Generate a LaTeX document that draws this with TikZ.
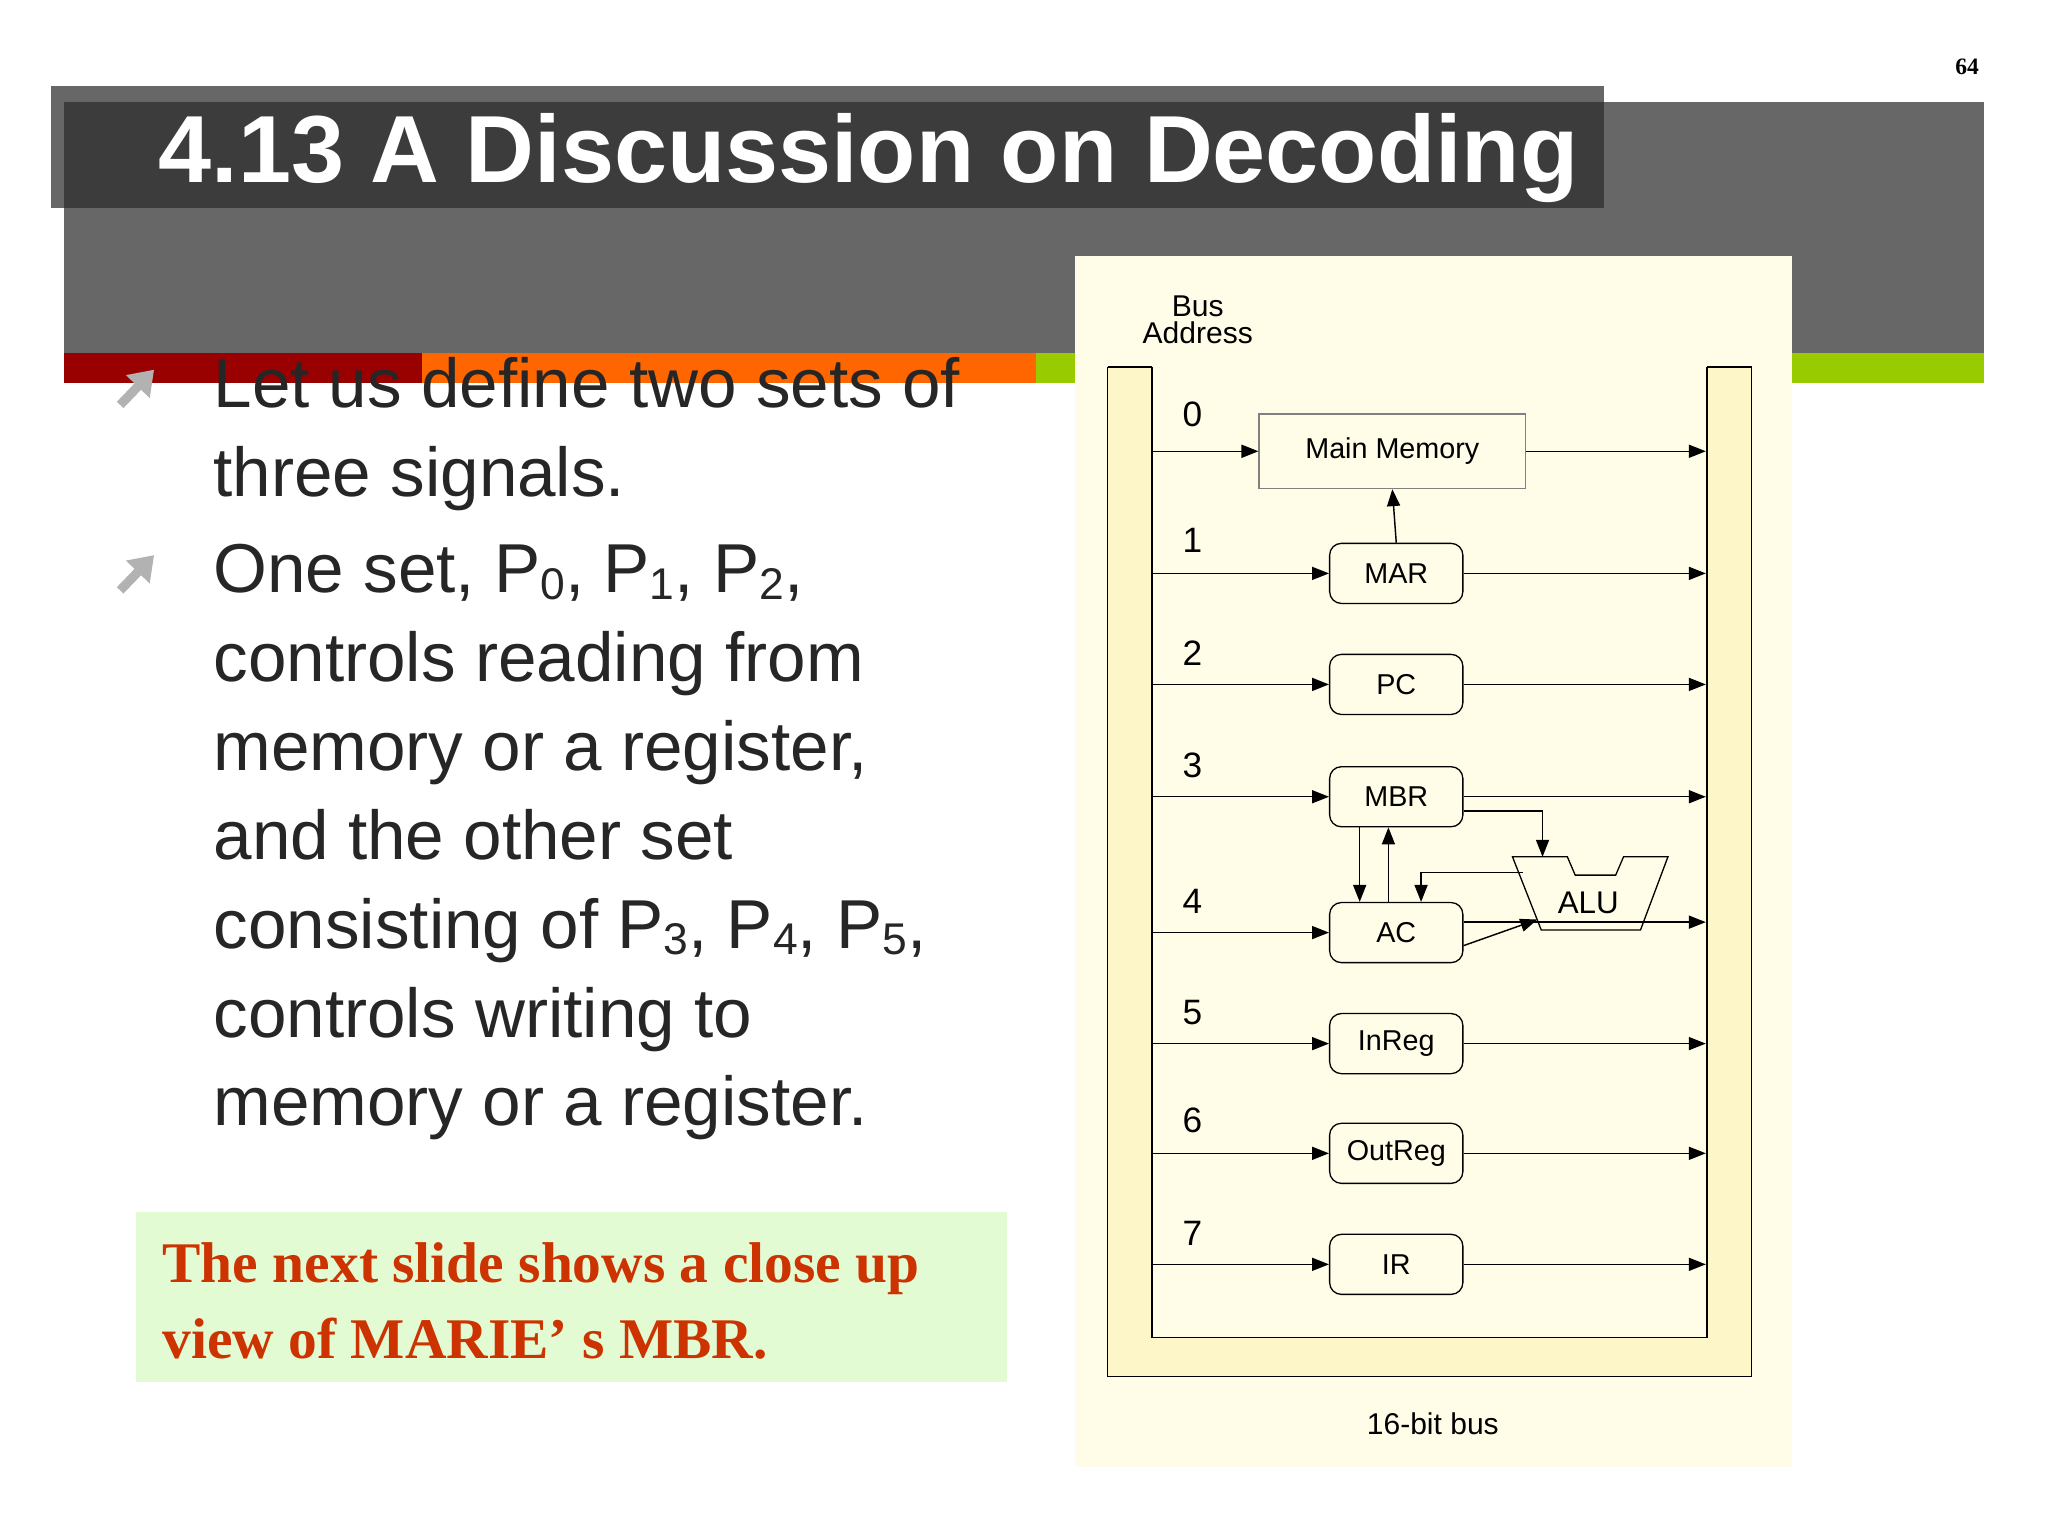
\documentclass[tikz,border=0pt]{standalone}
\usepackage{fontspec}
\setmainfont{Liberation Sans}
\newfontfamily\serifb{Liberation Serif}
\usetikzlibrary{arrows.meta}
\definecolor{panel}{HTML}{FFFDE8}
\definecolor{busfill}{HTML}{FDF6C8}
\definecolor{titledark}{HTML}{3C3C3C}
\definecolor{bandgrey}{HTML}{676767}
\definecolor{redbar}{HTML}{990000}
\definecolor{orangebar}{HTML}{FF6600}
\definecolor{greenbar}{HTML}{99CC00}
\definecolor{notebg}{HTML}{E2FBD3}
\definecolor{notetext}{HTML}{CC3300}
\newcommand{\sbs}[1]{{\fontsize{34}{34}\selectfont\raisebox{-5pt}{#1}}}
\tikzset{
  reg/.style={draw, rounded corners=9pt, minimum width=102pt, minimum height=46pt, inner sep=0pt, font=\fontsize{22}{22}\selectfont, line width=1pt},
  bustxt/.style={font=\fontsize{23}{23}\selectfont},
  wire/.style={line width=1.1pt, -{Triangle[length=13pt,width=10pt]}},
  plain/.style={line width=1.1pt},
  body/.style={anchor=base west, font=\fontsize{53}{53}\selectfont, text=black!85},
  bul/.style={line width=7pt, gray!60, -{Triangle[length=18pt,width=24pt]}}
}
\begin{document}
\begin{tikzpicture}[x=1pt,y=-1pt]
\path[use as bounding box, fill=white] (0,0) rectangle (1568,1176);
% header
\fill[bandgrey] (49,78) rectangle (1519,270);
\fill[bandgrey] (39,66) rectangle (1228,159);
\fill[titledark] (49,78) rectangle (1228,159);
\fill[redbar] (49,270) rectangle (323,293);
\fill[orangebar] (323,270) rectangle (793,293);
\fill[greenbar] (793,270) rectangle (1519,293);
\node[anchor=base east, text=white, font=\fontsize{73}{73}\selectfont\bfseries] (title) at (1212,140) {4.13 A Discussion on Decoding};
\node[anchor=base, font=\serifb\fontsize{18}{18}\selectfont\bfseries] (pg) at (1506,57) {64};
% body text
\draw[bul] (92,310) -- (118,283);
\draw[bul] (92,452) -- (118,425);
\node[body] (l1) at (160,312) {Let us define two sets of};
\node[body] (l2) at (160,380) {three signals.};
\node[body] (l3) at (160,454) {One set, P\sbs{0}, P\sbs{1}, P\sbs{2},};
\node[body] (l4) at (160,522) {controls reading from};
\node[body] (l5) at (160,590) {memory or a register,};
\node[body] (l6) at (160,658) {and the other set};
\node[body] (l7) at (160,726) {consisting of P\sbs{3}, P\sbs{4}, P\sbs{5},};
\node[body] (l8) at (160,794) {controls writing to};
\node[body] (l9) at (160,862) {memory or a register.};
\fill[notebg] (104,928) rectangle (771,1058);
\node[anchor=base west, text=notetext, font=\serifb\fontsize{44}{44}\selectfont\bfseries] (n1) at (121,982) {The next slide shows a close up};
\node[anchor=base west, text=notetext, font=\serifb\fontsize{44}{44}\selectfont\bfseries] (n2) at (121,1040) {view of MARIE’ s MBR.};
% panel
\fill[panel] (823,196) rectangle (1372,1123);
\fill[busfill] (848,281) -- (848,1054) -- (1341,1054) -- (1341,281) -- (1307,281) -- (1307,1024) -- (882,1024) -- (882,281) -- cycle;
\draw[line width=1pt] (882,281) -- (882,1024) -- (1307,1024) -- (1307,281);
\draw[line width=1pt] (848,281) -- (848,1054) -- (1341,1054) -- (1341,281);
\draw[line width=2pt] (848,281) -- (882,281);
\draw[line width=2pt] (1307,281) -- (1341,281);
\node[bustxt, align=center] (busaddr) at (917,245) {Bus\\[-2pt]Address};
\node[bustxt] (bb) at (1097,1090) {16-bit bus};
\foreach \n/\y in {0/317,1/414,2/500,3/586,4/690,5/775,6/858,7/944}
  \node[font=\fontsize{27}{27}\selectfont] (num\n) at (913,\y) {\n};
% nodes
\node[draw=black!50, line width=1pt, minimum width=204pt, minimum height=57pt, inner sep=0pt, font=\fontsize{22}{22}\selectfont] (mem) at (1066,345.5) {Main Memory};
\node[reg] (mar) at (1069,439) {MAR};
\node[reg] (pc) at (1069,524) {PC};
\node[reg] (mbr) at (1069,610) {MBR};
\node[reg] (ac) at (1069,714) {AC};
\node[reg] (inreg) at (1069,799) {InReg};
\node[reg] (outreg) at (1069,883) {OutReg};
\node[reg] (ir) at (1069,968) {IR};
\draw[line width=1pt] (1158,656) -- (1200,656) -- (1206,670) -- (1237,670) -- (1243,656) -- (1277,656) -- (1256,712) -- (1180,712) -- cycle;
\node[font=\fontsize{24}{24}\selectfont] (alu) at (1216,691) {ALU};
\coordinate (alutop) at (1181,656);
\coordinate (alul) at (1166,668);
\coordinate (alulin) at (1177,704);
% bus coordinates
\foreach \nm/\y in {mem/345.5,mar/439,pc/524,mbr/610,ac/714,inreg/799,outreg/883,ir/968}{
  \coordinate (L\nm) at (882,\y);
  \coordinate (R\nm) at (1306,\y);
}
\draw[wire] (Lmem) -- (mem.west);
\draw[wire] (mem.east) -- (Rmem);
\foreach \nm in {mar,pc,mbr,inreg,outreg,ir}{
  \draw[wire] (L\nm) -- (\nm.west);
  \draw[wire] (\nm.east) -- (R\nm);
}
\draw[wire] (Lac) -- (ac.west);
\draw[wire] (mar.north) -- (mem.south);
\draw[wire] ([xshift=-28pt]mbr.south) -- ([xshift=-28pt]ac.north);
\draw[wire] ([xshift=-6pt]ac.north) -- ([xshift=-6pt]mbr.south);
\draw[wire] ([yshift=-11pt]mbr.east) -| (alutop);
\draw[wire] (alul) -| ([xshift=19pt]ac.north);
\draw[wire] ([yshift=-10pt]ac.east) -- (alulin);
\draw[wire] ([yshift=8pt]ac.east) -- ([yshift=8pt]Rac);
\end{tikzpicture}
\end{document}
